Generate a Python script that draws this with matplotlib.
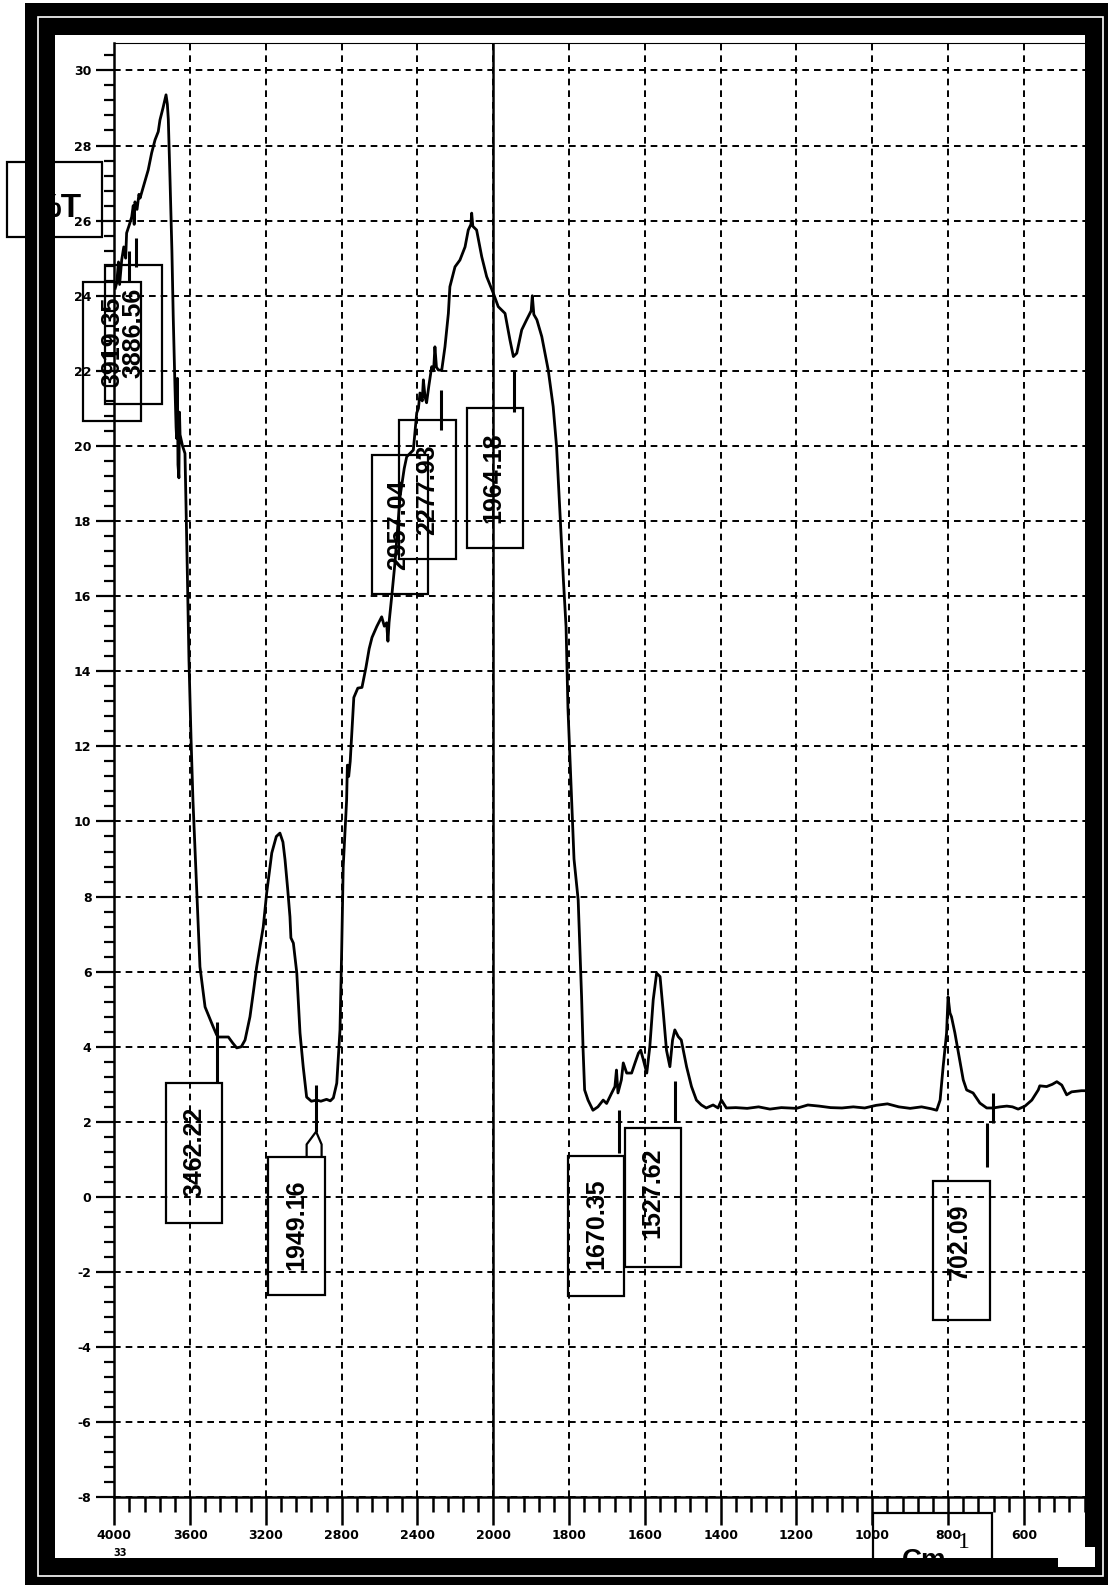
#!/usr/bin/env python3
# FTIR transmittance spectrum (%T vs cm-1) with scale change at 2000 cm-1

import numpy as np
import matplotlib
matplotlib.use("Agg")
import matplotlib.pyplot as plt
from matplotlib.patches import Rectangle, Polygon

plt.rcParams["lines.scale_dashes"] = False
plt.rcParams["axes.unicode_minus"] = False

# =========================================================
# DATA
# =========================================================

WAVENUMBER = [
    3995, 3987, 3978, 3972, 3961, 3950, 3940, 3935, 3920, 3908, 3900, 3895, 3891,
    3880, 3870, 3864, 3847, 3821, 3803, 3785, 3768, 3759, 3743, 3727, 3720, 3715,
    3706, 3696, 3689, 3680, 3674, 3671, 3667, 3664, 3659, 3656, 3653, 3640, 3627,
    3616, 3606, 3595, 3585, 3565, 3548, 3521, 3478, 3460, 3451, 3420, 3398, 3375,
    3354, 3330, 3310, 3284, 3265, 3249, 3214, 3196, 3169, 3145, 3126, 3110, 3099,
    3085, 3073, 3068, 3055, 3037, 3020, 3003, 2985, 2960, 2932, 2910, 2880, 2860,
    2844, 2826, 2809, 2800, 2792, 2774, 2770, 2763, 2755, 2745, 2736, 2715, 2693,
    2672, 2655, 2640, 2615, 2589, 2575, 2563, 2556, 2550, 2536, 2519, 2492, 2470,
    2457, 2440, 2422, 2404, 2395, 2387, 2375, 2369, 2360, 2352, 2340, 2325, 2315,
    2308, 2300, 2290, 2272, 2255, 2237, 2229, 2202, 2176, 2149, 2132, 2118, 2114,
    2108, 2088, 2061, 2035, 2000, 1987, 1969, 1956, 1947, 1938, 1925, 1912, 1900,
    1897, 1893, 1885, 1872, 1855, 1842, 1833, 1824, 1815, 1808, 1803, 1787, 1776,
    1767, 1763, 1759, 1750, 1737, 1724, 1710, 1701, 1688, 1679, 1675, 1671, 1662,
    1657, 1648, 1635, 1626, 1617, 1611, 1604, 1595, 1587, 1578, 1569, 1560, 1552,
    1543, 1534, 1527, 1521, 1512, 1504, 1490, 1477, 1464, 1451, 1438, 1420, 1407,
    1398, 1385, 1360, 1330, 1300, 1270, 1240, 1200, 1170, 1140, 1110, 1080, 1050,
    1020, 990, 960, 930, 900, 870, 845, 830, 821, 813, 804, 800, 795, 791, 782,
    774, 760, 751, 734, 716, 698, 681, 663, 645, 630, 615, 597, 579, 562, 558,
    540, 525, 513, 500, 487, 474, 448, 440,
]

TRANSMITTANCE = [
    24.2, 24.34, 24.9, 24.3, 24.95, 25.3, 25.0, 25.67, 25.9, 26.1, 26.4, 25.9, 26.5,
    26.3, 26.7, 26.6, 26.9, 27.35, 27.8, 28.15, 28.37, 28.68, 29.0, 29.35, 29.1, 28.7,
    27.1, 25.2, 23.44, 21.6, 20.5, 20.2, 21.8, 19.5, 19.15, 20.9, 20.3, 20.0, 19.8,
    17.0, 14.3, 12.2, 10.57, 8.17, 6.13, 5.06, 4.53, 4.32, 4.26, 4.26, 4.26, 4.1,
    3.97, 4.0, 4.18, 4.8, 5.5, 6.12, 7.19, 8.09, 9.16, 9.6, 9.69, 9.45, 8.98,
    8.2, 7.46, 6.9, 6.76, 5.97, 4.37, 3.46, 2.66, 2.55, 2.58, 2.55, 2.6, 2.56,
    2.64, 3.03, 4.45, 6.58, 8.79, 10.57, 11.5, 11.2, 11.6, 12.5, 13.3, 13.55, 13.57,
    14.1, 14.6, 14.9, 15.19, 15.45, 15.2, 15.29, 14.8, 15.3, 15.99, 16.88, 18.65, 19.4,
    19.71, 19.8, 19.89, 20.88, 21.0, 21.41, 21.2, 21.76, 21.3, 21.15, 21.6, 22.11, 22.0,
    22.64, 22.1, 22.02, 22.02, 22.64, 23.53, 24.24, 24.77, 24.95, 25.3, 25.75, 25.9, 26.2,
    25.85, 25.75, 25.04, 24.51, 24.07, 23.71, 23.53, 22.82, 22.38, 22.47, 23.09, 23.36, 23.6,
    24.0, 23.5, 23.36, 22.91, 22.02, 21.05, 19.98, 18.22, 16.43, 15.19, 13.02, 9.0, 7.91,
    5.33, 3.91, 2.85, 2.58, 2.31, 2.4, 2.58, 2.49, 2.76, 2.94, 3.38, 2.77, 3.12,
    3.57, 3.3, 3.3, 3.57, 3.83, 3.91, 3.65, 3.3, 4.0, 5.25, 5.96, 5.87, 4.98,
    3.91, 3.47, 4.18, 4.45, 4.27, 4.18, 3.47, 2.94, 2.58, 2.45, 2.37, 2.45, 2.37,
    2.58, 2.37, 2.38, 2.36, 2.40, 2.34, 2.38, 2.36, 2.45, 2.42, 2.38, 2.37, 2.40,
    2.37, 2.44, 2.48, 2.40, 2.36, 2.40, 2.35, 2.31, 2.58, 3.47, 4.36, 5.33, 4.9, 4.8, 4.37,
    3.91, 3.12, 2.85, 2.77, 2.5, 2.37, 2.37, 2.4, 2.42, 2.4, 2.34, 2.42, 2.58, 2.85, 2.96,
    2.94, 3.0, 3.07, 2.98, 2.72, 2.8, 2.83, 2.83,
]

PEAK_LABELS = ["3919.35", "3886.56", "3462.22", "1949.16", "2957.04",
               "2277.93", "1964.18", "1670.35", "1527.62", "702.09"]

X_MAJOR = [4000, 3600, 3200, 2800, 2400, 2000, 1800, 1600, 1400, 1200, 1000, 800, 600]
X_LABELS = [str(v) for v in X_MAJOR]
Y_MAJOR = list(range(-8, 31, 2))
Y_LABELS = [str(v) for v in Y_MAJOR]

# =========================================================
# LAYOUT (label boxes in data units: w_left, w_right, y_bot, y_top, text_w, text_y)
# =========================================================

LABEL_BOXES = [
    (4165, 3859, 20.66, 24.37, 4012, 22.77),
    (4049, 3748, 21.12, 24.83, 3901, 23.00),
    (3727, 3431, -0.69, 3.04, 3579, 1.20),
    (3191, 2888, -2.60, 1.07, 3037, -0.75),
    (2642, 2343, 16.06, 19.77, 2501, 17.90),
    (2496, 2197, 16.98, 20.69, 2351, 18.82),
    (2140, 1921, 17.29, 21.00, 2000, 19.16),
    (1802, 1655, -2.64, 1.09, 1727, -0.70),
    (1652, 1505, -1.86, 1.83, 1579, 0.10),
    (839, 689, -3.27, 0.43, 769, -1.20),
]

# short marker lines (w, y0, y1)
PEAK_MARKS = [
    (3925, 24.37, 25.2),
    (3885, 24.76, 25.53),
    (3456, 3.04, 4.66),
    (2935, 1.74, 2.98),
    (2274, 20.43, 21.49),
    (1945, 20.9, 22.0),
    (1667, 1.16, 2.31),
    (1521, 2.0, 3.1),
    (697, 0.79, 1.97),
    (681, 1.97, 2.77),
]

W, H = 1108, 1585


# piecewise-linear wavenumber axis: 400 cm-1 per cell above 2000, 200 below
def fwd(w):
    w = np.asarray(w, dtype=float)
    return np.where(w >= 2000, (w - 2000) / 400.0, (w - 2000) / 200.0)


def inv(u):
    u = np.asarray(u, dtype=float)
    return np.where(u >= 0, 2000 + 400.0 * u, 2000 + 200.0 * u)


def fig_rect(fig, x0, y0, x1, y1, **kw):
    r = Rectangle((x0 / W, 1 - y1 / H), (x1 - x0) / W, (y1 - y0) / H,
                  transform=fig.transFigure, **kw)
    fig.add_artist(r)
    return r


def main():
    fig = plt.figure(figsize=(W / 100, H / 100), dpi=100)
    ax = fig.add_axes([114.3 / W, 1 - 1497.4 / H, (1084.5 - 114.3) / W, (1497.4 - 43) / H])

    ax.set_xscale("function", functions=(fwd, inv))
    ax.set_xlim(4000, 440)
    ax.set_ylim(-8, 30.73)

    # ticks + grid
    ax.set_xticks(X_MAJOR, labels=X_LABELS, fontsize=9, fontweight="bold")
    minor_x = [v for v in list(range(4000, 2000, -80)) + list(range(2000, 439, -40))
               if v not in X_MAJOR]
    ax.set_xticks(minor_x, minor=True)
    ax.set_yticks(Y_MAJOR, labels=Y_LABELS, fontsize=9, fontweight="bold")
    ax.set_yticks(np.arange(-8, 30.75, 0.4), minor=True)

    ax.grid(True, which="major", color="black", lw=1.4, linestyle=(0, (4.8, 3.6)))
    ax.set_axisbelow(True)

    ax.tick_params(axis="x", which="major", length=20, width=1.8, pad=3, direction="out")
    ax.tick_params(axis="x", which="minor", length=11, width=1.8, direction="out")
    ax.tick_params(axis="y", which="major", length=13, width=1.6, pad=3.5, direction="out")
    ax.tick_params(axis="y", which="minor", length=7.2, width=1.6, direction="out")

    for side in ["left", "bottom"]:
        ax.spines[side].set_linewidth(1.8)
    ax.spines["top"].set_linewidth(0.8)
    ax.spines["right"].set_visible(False)

    # scale break line
    ax.axvline(2000, color="black", lw=1.8, zorder=2)

    # spectrum
    ax.plot(WAVENUMBER, TRANSMITTANCE, color="black", lw=2.0, zorder=3)

    # peak label boxes
    for lab, (wl, wr, yb, yt, tw, ty) in zip(PEAK_LABELS, LABEL_BOXES):
        ax.add_patch(Polygon([(wl, yb), (wr, yb), (wr, yt), (wl, yt)], closed=True,
                             fill=False, edgecolor="black", lw=1.6, zorder=4, clip_on=False))
        ax.text(tw, ty, lab, rotation=90, ha="center", va="center", fontsize=18,
                fontweight="bold", family=["Liberation Sans", "DejaVu Sans"],
                zorder=5, clip_on=False)

    for w, y0, y1 in PEAK_MARKS:
        ax.plot([w, w], [y0, y1], color="black", lw=2.2, zorder=4,
                solid_capstyle="butt", clip_on=False)
    # little fork under the 1949.16 mark
    ax.plot([2985, 2985, 2935, 2906, 2906], [1.07, 1.4, 1.74, 1.4, 1.07],
            color="black", lw=1.6, zorder=4)

    # %T box and Cm-1 box
    fig_rect(fig, 7, 162, 102, 237, fill=False, edgecolor="black", lw=1.6, zorder=5)
    fig.text(81 / W, 1 - 217 / H, "%T", ha="right", va="baseline", fontsize=24,
             fontweight="bold", family=["Liberation Sans", "DejaVu Sans"], zorder=5)
    fig_rect(fig, 873, 1513, 992, 1600, fill=False, edgecolor="black", lw=1.6, zorder=5)
    fig.text(902 / W, 1 - 1548 / H, "Cm", ha="left", va="top", fontsize=20,
             fontweight="bold", family=["Liberation Sans", "DejaVu Sans"], zorder=5)
    fig.text(958 / W, 1 - 1548 / H, "1", ha="left", va="baseline", fontsize=17,
             family=["Liberation Serif", "DejaVu Serif"], zorder=5)
    fig.text(113 / W, 1 - 1558 / H, "33", ha="left", va="bottom", fontsize=7,
             fontweight="bold", zorder=5)

    # heavy double frame
    for x0, y0, x1, y1 in [(25, 3, 55, 1585), (1084.5, 3, 1108, 1585),
                           (25, 3, 1108, 35), (25, 1558, 1108, 1585)]:
        fig_rect(fig, x0, y0, x1, y1, facecolor="black", edgecolor="none", zorder=10)
    fig_rect(fig, 38, 16.5, 1102.5, 1575.5, fill=False, edgecolor="white", lw=1.2, zorder=11)
    notch = [(1058, 1558), (1084.5, 1558), (1084.5, 1547), (1095, 1547), (1095, 1567), (1058, 1567)]
    fig.add_artist(Polygon([(x / W, 1 - y / H) for x, y in notch], closed=True,
                           transform=fig.transFigure, facecolor="white",
                           edgecolor="none", zorder=12))

    fig.savefig("out.png", dpi=100)
    plt.close(fig)


if __name__ == "__main__":
    main()
